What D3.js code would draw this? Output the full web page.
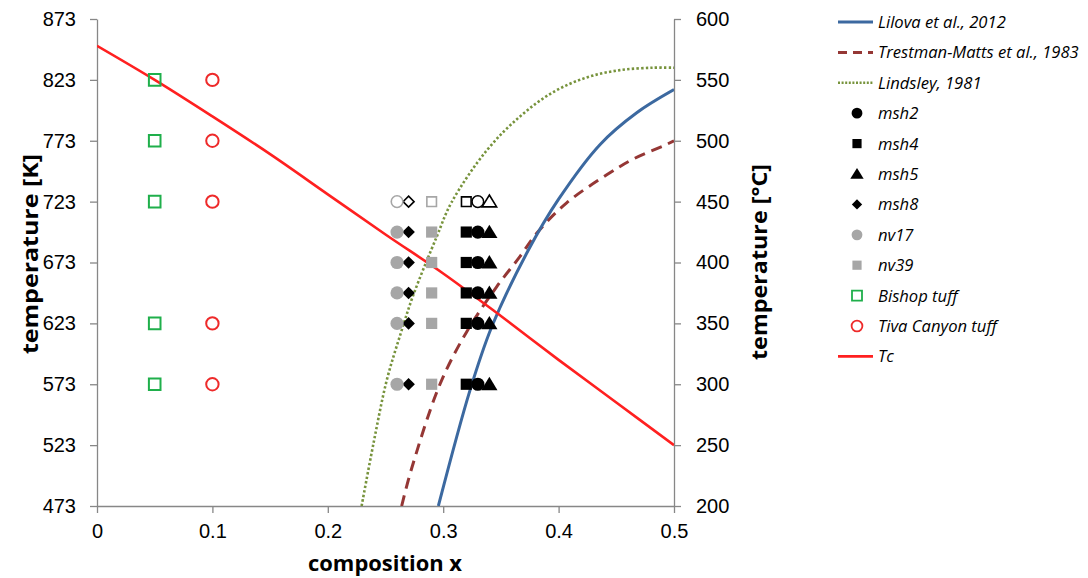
<!DOCTYPE html>
<html>
<head>
<meta charset="utf-8">
<script src="https://cdn.jsdelivr.net/npm/d3@7/dist/d3.min.js"></script>
<style>
  body { margin: 0; background: #fff; }
  svg { display: block; font-family: "Open Sans", sans-serif; }
  .axis path, .axis line { stroke: #878787; stroke-width: 1.3; }
  .axis text { font-size: 20px; fill: #000; }
</style>
</head>
<body>
<svg width="1088" height="578"></svg>
<script>
// ---- data ----
// solvus curves: composition x vs temperature [K]
var lilovaX = [0.2958, 0.3232, 0.342, 0.3737, 0.40, 0.436, 0.4677, 0.5];
var lilovaT = [473, 568, 620, 683, 725, 770, 796, 815];

var trestmanX = [0.264, 0.2727, 0.2972, 0.3203, 0.3463, 0.3666, 0.381, 0.407, 0.4417, 0.4647, 0.4936, 0.5];
var trestmanT = [473, 504, 573, 616, 653, 678, 697, 722, 745, 758, 770, 773];

var lindsleyX = [0.2293, 0.2395, 0.251, 0.2626, 0.274, 0.2943, 0.307, 0.3377, 0.3666, 0.3954, 0.4243, 0.4532, 0.482, 0.5];
var lindsleyT = [473, 524, 576, 613, 646, 694, 722, 765, 793, 813, 825, 831, 833, 833];

var tcX = [0, 0.05, 0.1, 0.15, 0.2, 0.25, 0.3, 0.35, 0.4, 0.45, 0.5];
var tcT = [851, 823, 793, 762, 729, 696, 664, 629, 593, 558, 523];

// samples
var sampleNames = ["msh2", "msh4", "msh5", "msh8", "nv17", "nv39"];
var sampleX     = [0.33, 0.32, 0.34, 0.27, 0.26, 0.29];
var sampleT     = [723, 698, 673, 648, 623, 573];
var openT       = 723;   // hollow markers at this temperature

var bishopX = 0.05;
var bishopT = [823, 773, 723, 623, 573];
var tivaX = 0.1;
var tivaT = [823, 773, 723, 623, 573];

var kTicks = [473, 523, 573, 623, 673, 723, 773, 823, 873];
var cTicks = [200, 250, 300, 350, 400, 450, 500, 550, 600];
var xTicks = [0, 0.1, 0.2, 0.3, 0.4, 0.5];

// ---- chart ----
var svg = d3.select("svg");

var x = d3.scaleLinear().domain([0, 0.5]).range([97, 674]);
var y = d3.scaleLinear().domain([473, 873]).range([506, 19]);
var yC = d3.scaleLinear().domain([200, 600]).range([506, 19]);

var blue = "#3c69a0", brown = "#953735", green = "#77933c", red = "#ff2020", grey = "#a6a6a6";

// marker shapes
function shape(type, s) {
  if (type === "circle") return d3.symbol(d3.symbolCircle, Math.PI * s * s)();
  if (type === "square") return "M" + (-s) + "," + (-s) + "h" + 2 * s + "v" + 2 * s + "h" + (-2 * s) + "Z";
  if (type === "diamond") return "M0," + (-s) + "L" + s + ",0L0," + s + "L" + (-s) + ",0Z";
  if (type === "triangle") return "M0," + (-s) + "L" + (s * 1.1) + "," + (s * 0.8) + "L" + (-s * 1.1) + "," + (s * 0.8) + "Z";
}
var sampleStyle = {
  msh2: { type: "circle", size: 6.6, color: "#000" },
  msh4: { type: "square", size: 5.6, color: "#000" },
  msh5: { type: "triangle", size: 7.4, color: "#000" },
  msh8: { type: "diamond", size: 6.3, color: "#000" },
  nv17: { type: "circle", size: 6.6, color: grey },
  nv39: { type: "square", size: 5.6, color: grey }
};

// axes
svg.append("g").attr("class", "axis")
  .attr("transform", "translate(97,0)")
  .call(d3.axisLeft(y).tickValues(kTicks).tickSize(7).tickPadding(14).tickSizeOuter(0));
svg.append("g").attr("class", "axis")
  .attr("transform", "translate(674,0)")
  .call(d3.axisRight(yC).tickValues(cTicks).tickSize(7).tickPadding(15).tickSizeOuter(0));
svg.append("g").attr("class", "axis")
  .attr("transform", "translate(0,506)")
  .call(d3.axisBottom(x).tickValues(xTicks).tickFormat(d3.format(".1~f")).tickSize(7).tickPadding(11).tickSizeOuter(0));

// axis titles
svg.append("text").attr("transform", "translate(38,254) rotate(-90)")
  .attr("text-anchor", "middle").style("font-size", "22px").style("font-weight", "bold")
  .attr("textLength", 200).attr("lengthAdjust", "spacingAndGlyphs")
  .text("temperature [K]");
svg.append("text").attr("transform", "translate(767,262) rotate(-90)")
  .attr("text-anchor", "middle").style("font-size", "22px").style("font-weight", "bold")
  .attr("textLength", 196).attr("lengthAdjust", "spacingAndGlyphs")
  .text("temperature [°C]");
svg.append("text").attr("x", 385).attr("y", 571)
  .attr("text-anchor", "middle").style("font-size", "21px").style("font-weight", "bold")
  .attr("textLength", 154).attr("lengthAdjust", "spacingAndGlyphs")
  .text("composition x");

// curves
svg.append("clipPath").attr("id", "plot")
  .append("rect").attr("x", 97).attr("y", 19).attr("width", 577).attr("height", 487);

var line = d3.line().x(function (d) { return x(d[0]); }).y(function (d) { return y(d[1]); })
  .curve(d3.curveCatmullRom.alpha(0.5));

var curves = [
  { xs: lindsleyX, ts: lindsleyT, color: green, width: 2.6, dash: "2.4,2.2" },
  { xs: trestmanX, ts: trestmanT, color: brown, width: 3, dash: "11,7" },
  { xs: lilovaX, ts: lilovaT, color: blue, width: 3, dash: null },
  { xs: tcX, ts: tcT, color: red, width: 2.6, dash: null }
];
var cg = svg.append("g").attr("clip-path", "url(#plot)");
curves.forEach(function (c) {
  cg.append("path")
    .datum(d3.zip(c.xs, c.ts))
    .attr("d", line)
    .attr("fill", "none")
    .attr("stroke", c.color)
    .attr("stroke-width", c.width)
    .attr("stroke-dasharray", c.dash);
});

// open markers: Bishop tuff and Tiva Canyon tuff
svg.append("g").selectAll("path").data(bishopT).enter().append("path")
  .attr("transform", function (t) { return "translate(" + x(bishopX) + "," + y(t) + ")"; })
  .attr("d", shape("square", 5.8))
  .attr("fill", "none").attr("stroke", "#1faf4b").attr("stroke-width", 2);
svg.append("g").selectAll("path").data(tivaT).enter().append("path")
  .attr("transform", function (t) { return "translate(" + x(tivaX) + "," + y(t) + ")"; })
  .attr("d", shape("circle", 6.2))
  .attr("fill", "none").attr("stroke", "#ee2a2a").attr("stroke-width", 2);

// sample markers
sampleNames.forEach(function (name, i) {
  var st = sampleStyle[name];
  svg.append("g").selectAll("path").data(sampleT).enter().append("path")
    .attr("transform", function (t) { return "translate(" + x(sampleX[i]) + "," + y(t) + ")"; })
    .attr("d", function (t) { return t === openT ? shape(st.type, st.size - 0.8) : shape(st.type, st.size); })
    .attr("fill", function (t) { return t === openT ? "#fff" : st.color; })
    .attr("stroke", function (t) { return t === openT ? st.color : "none"; })
    .attr("stroke-width", 1.6);
});

// legend
var legend = [
  { label: "Lilova et al., 2012", kind: "line", color: blue, width: 3, dash: null },
  { label: "Trestman-Matts et al., 1983", kind: "line", color: brown, width: 3, dash: "9,6" },
  { label: "Lindsley, 1981", kind: "line", color: green, width: 2.4, dash: "2,1.6" },
  { label: "msh2", kind: "sample" },
  { label: "msh4", kind: "sample" },
  { label: "msh5", kind: "sample" },
  { label: "msh8", kind: "sample" },
  { label: "nv17", kind: "sample" },
  { label: "nv39", kind: "sample" },
  { label: "Bishop tuff", kind: "open", type: "square", color: "#1faf4b", size: 5 },
  { label: "Tiva Canyon tuff", kind: "open", type: "circle", color: "#ee2a2a", size: 5.4 },
  { label: "Tc", kind: "line", color: red, width: 2.6, dash: null }
];
var lg = svg.append("g");
legend.forEach(function (d, i) {
  var ly = 22 + i * 30.4;
  if (d.kind === "line") {
    lg.append("line").attr("x1", 838).attr("x2", 873).attr("y1", ly).attr("y2", ly)
      .attr("stroke", d.color).attr("stroke-width", d.width).attr("stroke-dasharray", d.dash);
  } else if (d.kind === "sample") {
    var st = sampleStyle[d.label];
    lg.append("path").attr("transform", "translate(857," + ly + ")")
      .attr("d", shape(st.type, st.size * 0.82)).attr("fill", st.color);
  } else {
    lg.append("path").attr("transform", "translate(857," + ly + ")")
      .attr("d", shape(d.type, d.size)).attr("fill", "none")
      .attr("stroke", d.color).attr("stroke-width", 1.8);
  }
  lg.append("text").attr("x", 878).attr("y", ly + 6)
    .style("font-size", "16.6px").style("font-style", "italic")
    .text(d.label);
});
</script>
</body>
</html>
